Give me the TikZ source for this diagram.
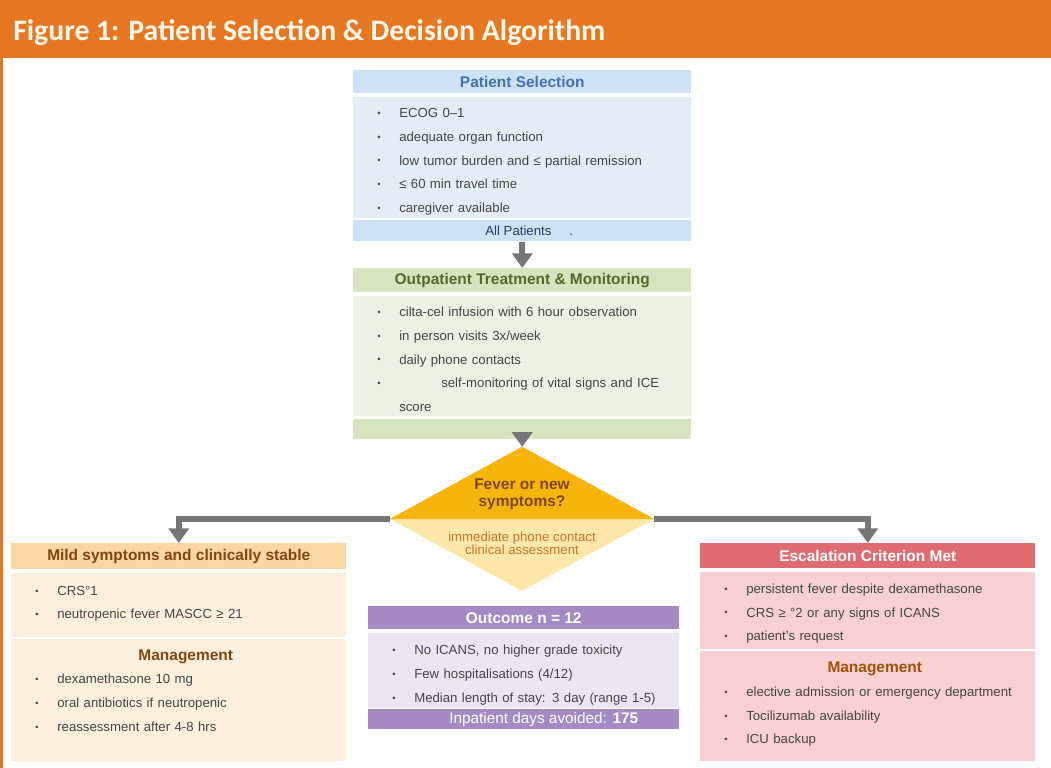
\documentclass[tikz,border=0pt]{standalone}
\usepackage{fontspec}
\setmainfont{Liberation Sans}
\newfontfamily\titlefont{Carlito}
\usetikzlibrary{arrows.meta,positioning,shapes.geometric}

\newlength{\px}
\setlength{\px}{0.75pt}
\renewcommand{\arraystretch}{1.616}

\definecolor{band}{RGB}{230,120,35}
\definecolor{bandtxt}{RGB}{255,247,232}
\definecolor{psHead}{RGB}{207,226,243}
\definecolor{psBody}{RGB}{227,237,248}
\definecolor{psTitle}{RGB}{68,114,180}
\definecolor{psFoot}{RGB}{40,60,100}
\definecolor{otHead}{RGB}{216,228,190}
\definecolor{otBody}{RGB}{236,242,225}
\definecolor{otTitle}{RGB}{85,105,45}
\definecolor{fvTop}{RGB}{247,181,10}
\definecolor{fvLow}{RGB}{255,231,170}
\definecolor{fvTitle}{RGB}{125,70,10}
\definecolor{fvText}{RGB}{200,120,45}
\definecolor{msHead}{RGB}{250,214,165}
\definecolor{msBody}{RGB}{253,240,222}
\definecolor{msTitle}{RGB}{130,70,15}
\definecolor{ecHead}{RGB}{222,108,112}
\definecolor{ecBody}{RGB}{248,208,209}
\definecolor{ecMgmt}{RGB}{160,80,10}
\definecolor{ocHead}{RGB}{165,138,196}
\definecolor{ocBody}{RGB}{236,229,243}
\definecolor{arrgray}{RGB}{118,118,118}
\definecolor{txtgray}{RGB}{70,70,70}

% small list bullet and section heading
\newcommand{\blt}{\raisebox{0.8pt}{\fontsize{7}{7}\selectfont •}}
\newcommand{\mgmt}[2]{\makebox[#2][c]{\hspace*{14\px}\fontsize{11.6}{13}\selectfont\bfseries\color{#1}Management}}

\tikzset{
    head/.style={
           rectangle,
           inner sep=0pt,
           minimum height=23\px,
           font=\fontsize{11.6}{13}\selectfont\bfseries,
           text centered,
           },
    list/.style={
           rectangle,
           inner xsep=24\px,
           inner ysep=0pt,
           align=left,
           text=txtgray,
           font=\fontsize{9.9}{11}\selectfont,
           },
    flow/.style={
           draw=arrgray,
           line width=4.5pt,
           -{Triangle[width=15pt,length=11pt]},
           },
    elbow/.style={to path={-| (\tikztotarget)}},
}

\begin{document}
\begin{tikzpicture}[x=0.75pt,y=-0.75pt]
        \useasboundingbox (0,0) rectangle (1051,768);
        \fill[white] (0,0) rectangle (1051,768);

        % Title band and left frame
        \fill[band] (0,0) rectangle (1051,58);
        \fill[band] (0,58) rectangle (3,768);
        \node[anchor=base west, inner sep=0pt, text=bandtxt,
            font=\titlefont\fontsize{22.3}{26}\selectfont\bfseries] (TITLE) at (13,40)
        {Figure 1: Patient Selection \& Decision Algorithm};

        % BOX PATIENT SELECTION
        \node[head,
            fill=psHead, text=psTitle,
            minimum width=338\px,
            anchor=north west] (PS_HEAD) at (353,70)
        {Patient Selection};
        \node[list,
            fill=psBody,
            text width=290\px,
            minimum height=121\px,
            below=3\px of PS_HEAD] (PS_BODY)
        {%
        \begin{tabular}{@{}p{22\px}@{}l@{}}
            \blt & ECOG 0–1\\
            \blt & adequate organ function\\
            \blt & low tumor burden and ≤ partial remission\\
            \blt & ≤ 60 min travel time\\
            \blt & caregiver available\\[-4.5pt]
        \end{tabular}
        };
        \node[head,
            fill=psHead, text=psFoot,
            font=\fontsize{9.9}{11}\selectfont,
            minimum width=338\px,
            minimum height=21\px,
            below=2\px of PS_BODY] (PS_FOOT)
        {\hspace*{14\px}All Patients\hspace{18\px}.};

        % BOX OUTPATIENT TREATMENT
        \node[head,
            fill=otHead, text=otTitle,
            minimum width=338\px,
            minimum height=24\px,
            anchor=north west] (OT_HEAD) at (353,268)
        {Outpatient Treatment \& Monitoring};
        \node[list,
            fill=otBody,
            text width=290\px,
            minimum height=120\px,
            below=3\px of OT_HEAD] (OT_BODY)
        {%
        \begin{tabular}{@{}p{22\px}@{}l@{}}
            \blt & cilta-cel infusion with 6 hour observation\\
            \blt & in person visits 3x/week\\
            \blt & daily phone contacts\\
            \blt & \hspace{42\px}self-monitoring of vital signs and ICE\\
                 & score\\[-5.25pt]
        \end{tabular}
        };
        \node[head,
            fill=otHead,
            minimum width=338\px,
            minimum height=20\px,
            below=3\px of OT_BODY] (OT_FOOT) {};

        % DECISION Fever
        \node[diamond,
            fill=fvLow,
            inner sep=0pt,
            minimum width=264\px,
            minimum height=144\px] (FV) at (522,519) {};
        \fill[fvTop] (FV.north) -- (FV.west) -- (FV.east) -- cycle;
        \node[align=center, text=fvTitle,
            font=\fontsize{11.6}{12.8}\selectfont\bfseries] (FV_Q) at (522,494)
        {Fever or new\\symptoms?};
        \node[align=center, text=fvText,
            font=\fontsize{9.9}{9.8}\selectfont] (FV_A) at (522,543)
        {immediate phone contact\\clinical assessment};

        % BOX MILD SYMPTOMS
        \node[head,
            fill=msHead, text=msTitle,
            minimum width=335\px,
            minimum height=26\px,
            anchor=north west] (MS_HEAD) at (11,543)
        {Mild symptoms and clinically stable};
        \node[list,
            fill=msBody,
            text width=287\px,
            minimum height=64\px,
            below=3\px of MS_HEAD] (MS_BODY)
        {%
        \begin{tabular}{@{}p{22\px}@{}l@{}}
            \blt & CRS°1\\
            \blt & neutropenic fever MASCC ≥ 21\\[3.75pt]
        \end{tabular}
        };
        \node[list,
            fill=msBody,
            text width=287\px,
            minimum height=122\px,
            below=2\px of MS_BODY] (MS_MGMT)
        {%
        \begin{tabular}{@{}p{22\px}@{}l@{}}
            \multicolumn{2}{@{}l@{}}{\mgmt{msTitle}{287\px}}\\
            \blt & dexamethasone 10 mg\\
            \blt & oral antibiotics if neutropenic\\
            \blt & reassessment after 4-8 hrs\\[14pt]
        \end{tabular}
        };

        % BOX ESCALATION
        \node[head,
            fill=ecHead, text=white,
            minimum width=335\px,
            minimum height=25\px,
            anchor=north west] (EC_HEAD) at (700,543)
        {Escalation Criterion Met};
        \node[list,
            fill=ecBody,
            text width=287\px,
            minimum height=77\px,
            below=3\px of EC_HEAD] (EC_BODY)
        {%
        \begin{tabular}{@{}p{22\px}@{}l@{}}
            \blt & persistent fever despite dexamethasone\\
            \blt & CRS ≥ °2 or any signs of ICANS\\
            \blt & patient’s request\\[-3pt]
        \end{tabular}
        };
        \node[list,
            fill=ecBody,
            text width=287\px,
            minimum height=110\px,
            below=2\px of EC_BODY] (EC_MGMT)
        {%
        \begin{tabular}{@{}p{22\px}@{}l@{}}
            \multicolumn{2}{@{}l@{}}{\mgmt{ecMgmt}{287\px}}\\
            \blt & elective admission or emergency department\\
            \blt & Tocilizumab availability\\
            \blt & ICU backup\\[4pt]
        \end{tabular}
        };

        % BOX OUTCOME
        \node[head,
            fill=ocHead, text=white,
            minimum width=311\px,
            anchor=north west] (OC_HEAD) at (368,606)
        {Outcome n = 12};
        \node[list,
            fill=ocBody,
            text width=263\px,
            minimum height=75\px,
            below=3\px of OC_HEAD] (OC_BODY)
        {%
        \begin{tabular}{@{}p{22\px}@{}l@{}}
            \blt & No ICANS, no higher grade toxicity\\
            \blt & Few hospitalisations (4/12)\\
            \blt & Median length of stay: 3 day (range 1-5)\\[-5.25pt]
        \end{tabular}
        };
        \node[head,
            fill=ocHead, text=white,
            font=\fontsize{11.5}{13}\selectfont,
            minimum width=311\px,
            minimum height=20\px,
            below=1\px of OC_BODY] (OC_FOOT)
        {\hspace*{40\px}Inpatient days avoided: \textbf{175}};

        % draw the arrows between the boxes
        \path
            (PS_FOOT)   edge[flow]          (OT_HEAD)
            (OT_FOOT)   edge[flow]          (FV)
            (FV.west)   edge[flow,elbow]    (MS_HEAD.north)
            (FV.east)   edge[flow,elbow]    (EC_HEAD.north)
            ;

\end{tikzpicture}
\end{document}
